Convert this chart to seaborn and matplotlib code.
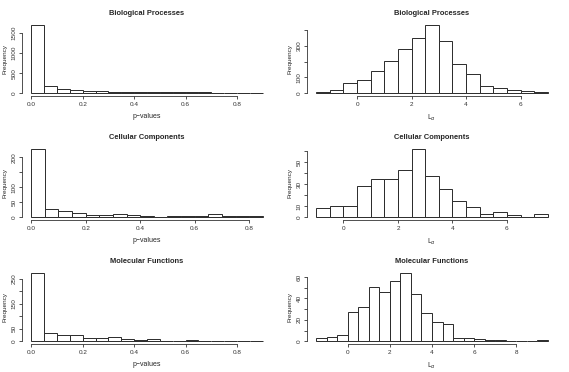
import numpy as np
import pandas as pd
import matplotlib
matplotlib.use('Agg')
import matplotlib.pyplot as plt
import seaborn as sns

# p-value histograms (bin width 0.05, starting at 0)
bp_p = [1708, 192, 100, 75, 50, 50, 42, 25, 25, 25, 25, 25, 25, 25, 17, 12, 8, 5]
cc_p = [228, 27, 20, 13, 7, 7, 10, 7, 3, 1, 3, 3, 3, 10, 3, 3, 3]
mf_p = [273, 33, 24, 23, 13, 13, 16, 8, 4, 8, 3, 3, 6, 3, 3, 1, 1, 3]

# L_alpha histograms (bin width 0.5)
bp_l_start = -1.5
bp_l = [6, 21, 63, 82, 141, 202, 278, 347, 432, 328, 183, 120, 44, 32, 19, 13, 6]
cc_l_start = -1.0
cc_l = [8, 10, 10, 28, 35, 35, 43, 62, 37, 26, 15, 9, 3, 5, 2, 0, 3]
mf_l_start = -1.5
mf_l = [3, 4, 6, 27, 32, 51, 46, 56, 64, 44, 26, 18, 16, 3, 3, 2, 1, 1, 0, 0, 0, 1]

titles = ['Biological Processes', 'Cellular Components', 'Molecular Functions']

sns.set_style('ticks')
plt.rcParams['font.family'] = ['Liberation Sans', 'DejaVu Sans']

fig = plt.figure(figsize=(5.69, 3.72), dpi=100)


def r_hist(ax, start, width, counts, title, xlabel, xticks, yticks, ylabels):
    n = len(counts)
    edges = [start + width * k for k in range(n + 1)]
    df = pd.DataFrame({'x': [e + width / 2 for e in edges[:-1]], 'n': counts})
    sns.histplot(data=df, x='x', weights='n', bins=edges, ax=ax, color='white',
                 edgecolor='#2a2a2a', linewidth=0.7, alpha=1)
    lo, hi = edges[0], edges[-1]
    pad = 0.04 * (hi - lo)
    ax.set_xlim(lo - pad, hi + pad)
    ymax = max(counts)
    ax.set_ylim(-0.04 * ymax, 1.04 * ymax)
    ax.set_xticks(xticks)
    ax.set_xticklabels([('%.1f' % t) if width < 0.1 else str(int(t)) for t in xticks])
    ax.set_yticks(yticks)
    ax.set_yticklabels(ylabels, rotation=90, va='center')
    for s in ['top', 'right']:
        ax.spines[s].set_visible(False)
    ax.spines['bottom'].set_bounds(xticks[0], xticks[-1])
    ax.spines['left'].set_bounds(yticks[0], yticks[-1])
    for s in ['bottom', 'left']:
        ax.spines[s].set_linewidth(0.6)
        ax.spines[s].set_color('#333333')
    ax.tick_params(length=2.5, width=0.6, labelsize=4.6, pad=1.5, colors='#333333')
    ax.set_title(title, fontsize=5.4, fontweight='bold', pad=5)
    ax.set_xlabel(xlabel, fontsize=5, labelpad=4.5)
    ax.set_ylabel('Frequency', fontsize=4.6, labelpad=2.5)


W, H = 569, 372
left_x = [22, 307]
aw = 250
for i in range(3):
    top = 124 * i + 22
    bot = 124 * i + 96
    ax_p = fig.add_axes([left_x[0] / W, 1 - bot / H, aw / W, (bot - top) / H])
    ax_l = fig.add_axes([left_x[1] / W, 1 - bot / H, aw / W, (bot - top) / H])
    if i == 0:
        r_hist(ax_p, 0, 0.05, bp_p, titles[0], 'p\u2212values',
               [0, 0.2, 0.4, 0.6, 0.8], [0, 500, 1000, 1500],
               ['0', '500', '1000', '1500'])
        r_hist(ax_l, bp_l_start, 0.5, bp_l, titles[0], r'L$_\alpha$',
               [0, 2, 4, 6], [0, 100, 200, 300, 400],
               ['0', '100', '', '300', ''])
    elif i == 1:
        r_hist(ax_p, 0, 0.05, cc_p, titles[1], 'p\u2212values',
               [0, 0.2, 0.4, 0.6, 0.8], [0, 50, 100, 150, 200],
               ['0', '50', '100', '', '200'])
        r_hist(ax_l, cc_l_start, 0.5, cc_l, titles[1], r'L$_\alpha$',
               [0, 2, 4, 6], [0, 10, 20, 30, 40, 50, 60],
               ['0', '10', '', '30', '', '50', ''])
    else:
        r_hist(ax_p, 0, 0.05, mf_p, titles[2], 'p\u2212values',
               [0, 0.2, 0.4, 0.6, 0.8], [0, 50, 100, 150, 200, 250],
               ['0', '50', '', '150', '', '250'])
        r_hist(ax_l, mf_l_start, 0.5, mf_l, titles[2], r'L$_\alpha$',
               [0, 2, 4, 6, 8], [0, 10, 20, 30, 40, 50, 60],
               ['0', '', '20', '', '40', '', '60'])

fig.savefig('out.png', dpi=100)
